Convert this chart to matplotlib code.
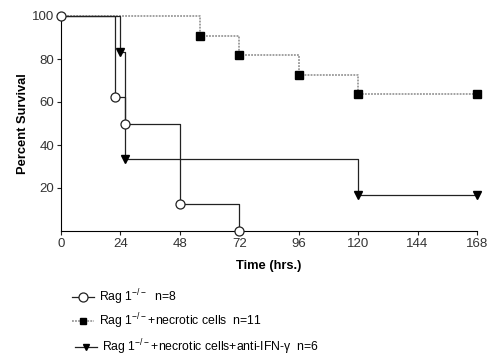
import matplotlib
matplotlib.use("Agg")
import matplotlib.pyplot as plt

# survival data (Kaplan-Meier steps)
rag_t = [0, 22, 26, 48, 72]
rag_s = [100, 62.5, 50, 12.5, 0]

necro_t = [0, 56, 72, 96, 120, 168]
necro_s = [100, 90.9, 81.8, 72.7, 63.6, 63.6]

ifn_t = [0, 24, 26, 120, 168]
ifn_s = [100, 83.3, 33.3, 16.7, 16.7]

labels = [r"Rag 1$^{-/-}$  n=8",
          r"Rag 1$^{-/-}$+necrotic cells  n=11",
          r"Rag 1$^{-/-}$+necrotic cells+anti-IFN-γ  n=6"]
xticks = [0, 24, 48, 72, 96, 120, 144, 168]
yticks = [20, 40, 60, 80, 100]

plt.rcParams["font.family"] = ["Liberation Sans", "DejaVu Sans"]
plt.rcParams["mathtext.fontset"] = "custom"
plt.rcParams["mathtext.rm"] = "Liberation Sans"

fig = plt.figure(figsize=(4.95, 3.56), dpi=100)
ax = fig.add_axes([61/495, 1-231/356, 416/495, 215/356])

h1, = ax.plot(rag_t, rag_s, drawstyle="steps-post", color="#222222", lw=0.9,
              marker="o", ms=6.5, mfc="white", mec="#222222", mew=0.9,
              clip_on=False, zorder=4)
ax.plot(necro_t, necro_s, drawstyle="steps-post", color="#888888", lw=1.1,
        ls=(0, (1.2, 0.8)), zorder=2, clip_on=False)
ax.plot(necro_t[1:], necro_s[1:], ls="none", marker="s", ms=5.2,
        color="black", zorder=3, clip_on=False)
ax.plot(ifn_t, ifn_s, drawstyle="steps-post", color="#222222", lw=0.9,
        zorder=3, clip_on=False)
ax.plot(ifn_t[1:], ifn_s[1:], ls="none", marker="v", ms=6,
        color="black", zorder=3, clip_on=False)

# legend handles
h2, = ax.plot([], [], color="#888888", lw=1.1, ls=(0, (1.2, 0.8)),
              marker="s", ms=4.5, mfc="black", mec="black")
h3, = ax.plot([], [], color="#222222", lw=0.9, marker="v", ms=5,
              mfc="black", mec="black")

ax.set_xlim(0, 168)
ax.set_ylim(0, 100)
ax.set_xticks(xticks)
ax.set_yticks(yticks)
ax.spines["top"].set_visible(False)
ax.spines["right"].set_visible(False)
ax.tick_params(labelsize=9.5, length=3, width=0.8, colors="#222222",
               labelcolor="#333333", pad=2)
ax.set_xlabel("Time (hrs.)", fontsize=9.3, fontweight="bold", labelpad=7)
ax.set_ylabel("Percent Survival", fontsize=9.3, fontweight="bold", labelpad=2)

# one legend per row, placed like the reference
rows = [(72, 297), (72, 321), (75, 347)]
for h, lab, (x, y) in zip([h1, h2, h3], labels, rows):
    leg = fig.legend([h], [lab], loc="center left",
                     bbox_to_anchor=(x/495, 1-y/356), frameon=False,
                     fontsize=8.8, handlelength=1.8, handletextpad=0.4,
                     borderaxespad=0, borderpad=0)

fig.savefig("out.png", dpi=100)
